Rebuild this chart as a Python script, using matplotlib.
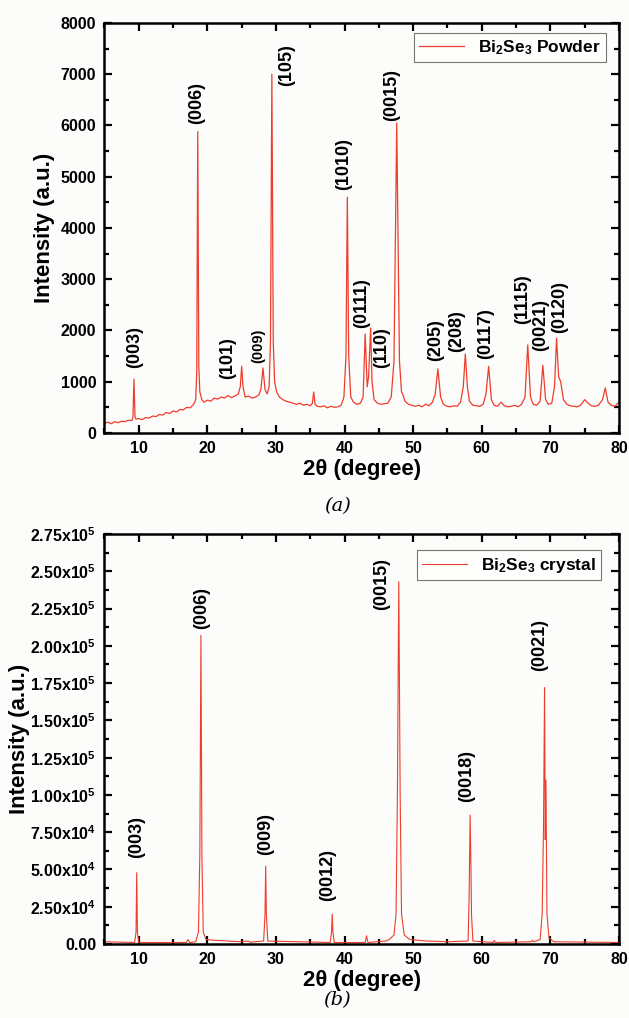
import matplotlib
matplotlib.use("Agg")
import matplotlib.pyplot as plt
from matplotlib.ticker import MultipleLocator, FixedLocator, FuncFormatter

plt.rcParams['font.family'] = ['Liberation Sans', 'DejaVu Sans']
plt.rcParams['font.weight'] = 'bold'
plt.rcParams['mathtext.fontset'] = 'custom'
plt.rcParams['mathtext.rm'] = 'Liberation Sans:bold'
plt.rcParams['mathtext.bf'] = 'Liberation Sans:bold'
plt.rcParams['mathtext.default'] = 'bf'

# ---- panel (a): Bi2Se3 powder ----
two_theta_a = [5, 5.5, 6, 6.5, 7, 7.5, 8, 8.5, 9, 9.15, 9.3, 9.45, 9.6, 10, 10.5, 11, 11.5, 12, 12.5,
               13, 13.5, 14, 14.5, 15, 15.5, 16, 16.5, 17, 17.5, 18, 18.3, 18.45, 18.6, 18.75, 18.9,
               19.2, 19.5, 20, 20.5, 21, 21.5, 22, 22.5, 23, 23.5, 24, 24.5, 24.8, 25.0, 25.2, 25.5,
               26, 26.5, 27, 27.5, 27.8, 28.1, 28.4, 28.7, 29.0, 29.2, 29.4, 29.6, 29.8, 30.1, 30.5,
               31, 31.5, 32, 32.5, 33, 33.5, 34, 34.5, 35, 35.3, 35.5, 35.7, 36, 36.5, 37, 37.5, 38,
               38.5, 39, 39.5, 39.9, 40.2, 40.4, 40.6, 40.9, 41.3, 41.8, 42.3, 42.7, 43.0, 43.3, 43.5,
               43.8, 44.0, 44.3, 44.8, 45.3, 45.8, 46.3, 46.8, 47.2, 47.6, 48.0, 48.3, 48.5, 48.8, 49.3,
               49.8, 50.3, 50.8, 51.3, 51.8, 52.3, 52.8, 53.2, 53.6, 54.0, 54.4, 54.9, 55.4, 55.9, 56.4,
               56.9, 57.3, 57.6, 57.9, 58.2, 58.7, 59.2, 59.7, 60.2, 60.6, 61.0, 61.4, 61.8, 62.3, 62.8,
               63.3, 63.8, 64.3, 64.8, 65.3, 65.8, 66.3, 66.7, 67.1, 67.5, 68.0, 68.5, 68.9, 69.3, 69.7,
               70.2, 70.6, 70.9, 71.2, 71.5, 71.9, 72.4, 72.9, 73.4, 73.9, 74.4, 75.0, 75.5, 76.0, 76.5,
               77.0, 77.6, 78.0, 78.4, 78.9, 79.4, 80]
intensity_a = [190, 210, 180, 220, 200, 230, 220, 250, 240, 300, 1050, 320, 270, 280, 260, 300, 290, 330, 320,
               360, 350, 400, 380, 430, 410, 460, 450, 500, 490, 560, 650, 1200, 5880, 1300, 800,
               650, 600, 640, 620, 680, 660, 700, 680, 730, 690, 720, 760, 900, 1300, 900, 700,
               720, 680, 700, 740, 850, 1270, 850, 760, 900, 1800, 7000, 1800, 1000, 800, 700,
               650, 620, 600, 580, 560, 580, 540, 560, 530, 580, 800, 560, 520, 510, 530, 490, 520,
               500, 510, 540, 700, 1500, 4600, 1500, 700, 600, 560, 580, 700, 1930, 900, 1100,
               2050, 1000, 650, 580, 560, 570, 580, 700, 1400, 6050, 1400, 800, 750, 620, 560,
               540, 520, 540, 510, 560, 530, 600, 750, 1250, 700, 560, 520, 510, 530, 520,
               600, 900, 1540, 900, 620, 540, 530, 520, 560, 750, 1300, 650, 540, 520, 600,
               530, 510, 520, 540, 510, 560, 700, 1720, 700, 560, 540, 620, 1320, 650, 560,
               580, 900, 1850, 1100, 1000, 650, 560, 530, 520, 510, 540, 650, 580, 530, 520,
               540, 650, 880, 600, 540, 520, 600]

labels_a = ['(003)', '(006)', '(101)', '(009)', '(105)', '(1010)', '(0111)', '(110)', '(0015)',
            '(205)', '(208)', '(0117)', '(1115)', '(0021)', '(0120)']
label_x_a = [9.45, 18.5, 23.0, 27.4, 31.6, 39.8, 42.5, 45.4, 46.9, 53.2, 56.4, 60.5, 65.9, 68.6, 71.4]
label_y_a = [1670, 6430, 1460, 1700, 7180, 5250, 2540, 1670, 6590, 1810, 1980, 1930, 2620, 2100, 2450]

# ---- panel (b): Bi2Se3 crystal ----
two_theta_b = [5, 9.4, 9.6, 9.7, 9.8, 10.0, 16.9, 17.2, 17.4, 18.3, 18.7, 18.9, 19.06, 19.2, 19.4, 19.8,
               21, 25, 26, 26.2, 28.2, 28.4, 28.5, 28.6, 28.8, 37.9, 38.1, 38.2, 38.3, 38.5, 43.0, 43.2,
               43.4, 46, 46.5, 47.2, 47.5, 47.7, 47.9, 48.1, 48.3, 48.7, 49.5, 52, 55, 58.0, 58.15, 58.3,
               58.42, 58.5, 58.7, 61.7, 61.8, 62, 67.2, 67.4, 67.6, 68.5, 68.8, 69.0, 69.15, 69.25, 69.35,
               69.5, 69.8, 70.5, 80]
intensity_b = [1500, 1000, 8000, 47800, 8000, 1000, 1000, 3000, 1000, 1500, 8000, 60000, 207000, 60000, 8000, 3000,
               2500, 1500, 2000, 1200, 2000, 20000, 52300, 20000, 2000, 1000, 8000, 20100, 8000, 1000, 1000, 5500,
               1000, 2000, 3000, 6000, 20000, 100000, 243000, 100000, 20000, 6000, 3000, 2000, 1500, 2000, 30000, 86500,
               51000, 20000, 2000, 1000, 2500, 1000, 1500, 2500, 1500, 3000, 20000, 80000, 172000, 70000, 110000,
               20000, 4000, 1500, 1000]

labels_b = ['(003)', '(006)', '(009)', '(0012)', '(0015)', '(0018)', '(0021)']
label_x_b = [9.7, 19.2, 28.5, 37.6, 45.4, 57.8, 68.5]
label_y_b = [72000, 225500, 74000, 46000, 241500, 113000, 200500]

red = '#ee3d2c'

fig = plt.figure(figsize=(6.29, 10.18), dpi=100, facecolor='#fcfcfa')
ax1 = fig.add_axes([0.1661, 0.5747, 0.818, 0.4027])
ax2 = fig.add_axes([0.1661, 0.0727, 0.818, 0.4027])


def style(ax, ylab_x):
    ax.set_facecolor('#fcfcfa')
    ax.set_xlim(5, 80)
    ax.xaxis.set_major_locator(FixedLocator([10, 20, 30, 40, 50, 60, 70, 80]))
    ax.xaxis.set_minor_locator(MultipleLocator(5))
    ax.tick_params(which='both', direction='in', top=True, right=True, width=1.6, labelsize=11.5, pad=6)
    ax.tick_params(which='major', length=6)
    ax.tick_params(which='minor', length=3.5)
    for s in ax.spines.values():
        s.set_linewidth(1.8)
    ax.set_xlabel('2θ (degree)', fontsize=16, fontweight='bold')
    ax.xaxis.set_label_coords(0.5, -0.063)
    ax.set_ylabel('Intensity (a.u.)', fontsize=16, fontweight='bold')
    ax.yaxis.set_label_coords(ylab_x, 0.5)


# panel (a)
ax1.plot(two_theta_a, intensity_a, color=red, lw=0.9, label=r'Bi$_2$Se$_3$ Powder')
style(ax1, -0.096)
ax1.set_ylim(0, 8000)
ax1.yaxis.set_major_locator(MultipleLocator(1000))
ax1.yaxis.set_minor_locator(MultipleLocator(500))
for lab, x, y in zip(labels_a, label_x_a, label_y_a):
    fs = 10.5 if lab == '(009)' else 13
    ax1.text(x, y, lab, rotation=90, ha='center', va='center', fontsize=fs, fontweight='bold')
leg = ax1.legend(loc='upper right', bbox_to_anchor=(0.975, 0.975), fontsize=12.5, frameon=True,
                 fancybox=False, handlelength=2.6, borderpad=0.3, borderaxespad=0)
leg.get_frame().set_edgecolor('#555555')
leg.get_frame().set_linewidth(0.8)

# panel (b)
ax2.plot(two_theta_b, intensity_b, color=red, lw=0.8, label=r'Bi$_2$Se$_3$ crystal')
style(ax2, -0.145)
ax2.set_ylim(0, 275000)
ax2.yaxis.set_major_locator(MultipleLocator(25000))
ax2.yaxis.set_minor_locator(MultipleLocator(12500))


def sci(v, pos):
    if v == 0:
        return '0.00'
    e = 5 if v >= 100000 else 4
    return r'%.2fx10$^{%d}$' % (v / 10 ** e, e)


ax2.yaxis.set_major_formatter(FuncFormatter(sci))
for lab, x, y in zip(labels_b, label_x_b, label_y_b):
    ax2.text(x, y, lab, rotation=90, ha='center', va='center', fontsize=13, fontweight='bold')
leg = ax2.legend(loc='upper right', bbox_to_anchor=(0.965, 0.96), fontsize=12.5, frameon=True,
                 fancybox=False, handlelength=2.6, borderpad=0.3, borderaxespad=0)
leg.get_frame().set_edgecolor('#555555')
leg.get_frame().set_linewidth(0.8)

fig.text(0.536, 0.503, '(a)', fontsize=14, family='DejaVu Serif', style='italic', fontweight='normal',
         ha='center', va='center')
fig.text(0.536, 0.018, '(b)', fontsize=14, family='DejaVu Serif', style='italic', fontweight='normal',
         ha='center', va='center')

fig.savefig('out.png', dpi=100, facecolor=fig.get_facecolor())
